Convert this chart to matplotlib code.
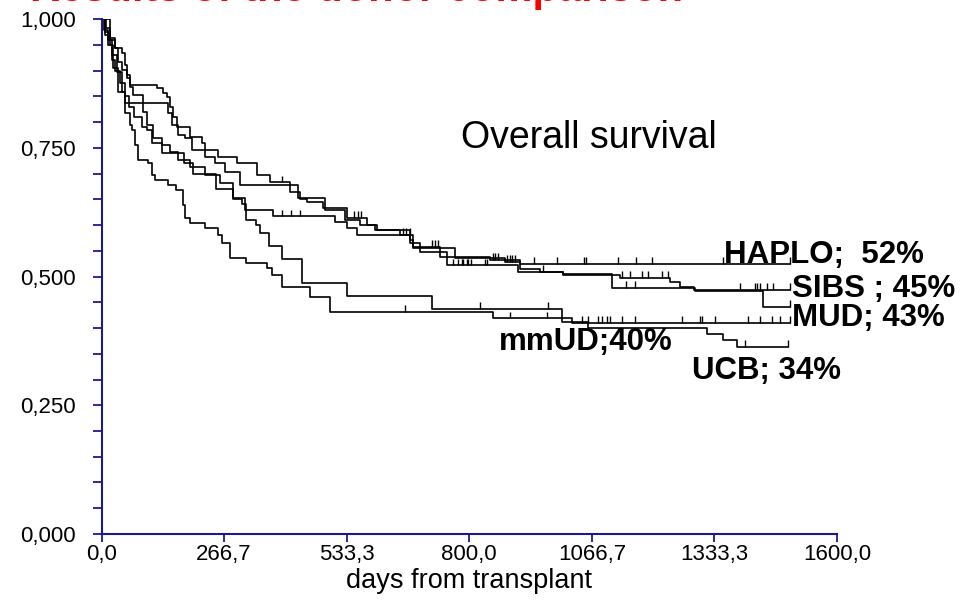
import numpy as np
import matplotlib
matplotlib.use('Agg')
import matplotlib.pyplot as plt

plt.rcParams['font.family'] = ['Liberation Sans', 'DejaVu Sans']

# Kaplan-Meier steps: time (days) where survival drops to value
haplo_t = [0, 10, 18, 29, 45, 51, 55, 62, 121, 134, 143, 149, 156, 164, 193, 219, 225, 253, 295,
           338, 367, 410, 432, 447, 482, 534, 578, 599, 671, 678, 736, 845, 910]
haplo_s = [1.000, 0.983, 0.963, 0.944, 0.934, 0.911, 0.891, 0.872, 0.866, 0.856, 0.849, 0.829, 0.810,
           0.790, 0.771, 0.759, 0.746, 0.732, 0.720, 0.697, 0.683, 0.664, 0.651, 0.645, 0.633, 0.614,
           0.600, 0.590, 0.571, 0.557, 0.538, 0.532, 0.524]
haplo_cens = [393, 550, 558, 565, 720, 726, 733, 852, 857, 862, 940, 991, 1050, 1055, 1124, 1163,
              1198, 1352, 1498]

sibs_t = [0, 5, 14, 23, 34, 45, 51, 145, 153, 166, 182, 197, 225, 247, 269, 301, 428, 486, 530, 562,
          595, 650, 671, 693, 751, 906, 1004, 1128, 1237, 1258, 1288]
sibs_s = [1.000, 0.979, 0.959, 0.930, 0.897, 0.858, 0.837, 0.817, 0.794, 0.775, 0.769, 0.746, 0.732,
          0.720, 0.703, 0.678, 0.652, 0.629, 0.610, 0.600, 0.590, 0.581, 0.565, 0.548, 0.522, 0.509,
          0.502, 0.497, 0.489, 0.480, 0.474]
sibs_cens = [655, 662, 670, 765, 776, 784, 787, 795, 798, 803, 835, 839, 1132, 1150, 1176, 1189,
             1219, 1232, 1389, 1422, 1426, 1433, 1448, 1461, 1498]

mud_t = [0, 8, 18, 29, 36, 45, 55, 62, 69, 90, 99, 112, 132, 149, 166, 193, 225, 258, 286, 312, 373,
         508, 534, 556, 678, 769, 878, 910, 954, 1004, 1111, 1291, 1439]
mud_s = [1.000, 0.969, 0.959, 0.944, 0.917, 0.901, 0.885, 0.868, 0.852, 0.819, 0.794, 0.769, 0.755,
         0.742, 0.726, 0.713, 0.697, 0.682, 0.652, 0.629, 0.617, 0.606, 0.594, 0.581, 0.556, 0.536,
         0.528, 0.515, 0.509, 0.505, 0.478, 0.472, 0.441]
mud_cens = [393, 413, 432, 882, 889, 893, 899, 960, 1142, 1160, 1498]

mmud_t = [0, 8, 15, 22, 30, 40, 50, 60, 70, 88, 99, 110, 132, 180, 200, 250, 285, 305, 315, 335, 345,
          365, 393, 437, 535, 720, 1002, 1023]
mmud_s = [1.000, 0.975, 0.950, 0.920, 0.900, 0.875, 0.850, 0.830, 0.810, 0.790, 0.785, 0.760, 0.740,
          0.720, 0.700, 0.670, 0.650, 0.640, 0.610, 0.600, 0.585, 0.560, 0.535, 0.487, 0.462, 0.437,
          0.420, 0.410]
mmud_cens = [823, 971, 1045, 1059, 1080, 1089, 1100, 1106, 1133, 1161, 1263, 1302, 1306, 1335, 1407,
             1433, 1459, 1476, 1498]

ucb_t = [0, 18, 25, 36, 51, 62, 66, 73, 79, 101, 110, 116, 145, 162, 177, 182, 193, 225, 253, 262,
         280, 314, 360, 371, 393, 454, 497, 852, 1002, 1059, 1317, 1352, 1383]
ucb_s = [1.000, 0.950, 0.905, 0.858, 0.817, 0.794, 0.785, 0.755, 0.726, 0.720, 0.697, 0.687, 0.678,
         0.668, 0.639, 0.614, 0.604, 0.594, 0.581, 0.565, 0.536, 0.526, 0.517, 0.503, 0.480, 0.460,
         0.431, 0.419, 0.412, 0.400, 0.388, 0.377, 0.363]
ucb_cens = [660, 889, 969, 1400, 1494]

curves = [
    (haplo_t, haplo_s, haplo_cens, 1498),
    (sibs_t, sibs_s, sibs_cens, 1498),
    (mud_t, mud_s, mud_cens, 1498),
    (mmud_t, mmud_s, mmud_cens, 1498),
    (ucb_t, ucb_s, ucb_cens, 1494),
]

x_ticks = np.arange(7) * 1600 / 6
y_ticks = [0, 0.25, 0.5, 0.75, 1.0]

axis_col = '#1a1a8c'

fig = plt.figure(figsize=(9.61, 6.13), dpi=100)
ax = fig.add_axes([0.1057, 0.1289, 0.7652, 0.840])

for t, s, cens, end in curves:
    t = np.array(t, float)
    s = np.array(s, float)
    ax.step(np.append(t, end), np.append(s, s[-1]), where='post', color='black', lw=1.2)
    c = np.array(cens, float)
    idx = np.searchsorted(t, c, side='right') - 1
    sc = s[idx]
    ax.vlines(c, sc, sc + 0.013, color='black', lw=1.0)

ax.set_xlim(0, 1600)
ax.set_ylim(0, 1)
for side in ['top', 'right']:
    ax.spines[side].set_visible(False)
for side in ['left', 'bottom']:
    ax.spines[side].set_color(axis_col)
    ax.spines[side].set_linewidth(1.5)

ax.set_xticks(x_ticks)
ax.set_xticklabels([f'{v:.1f}'.replace('.', ',') for v in x_ticks])
ax.set_yticks(y_ticks)
ax.set_yticklabels([f'{v:.3f}'.replace('.', ',') for v in y_ticks])
ax.set_yticks(np.arange(0, 1.0001, 0.05), minor=True)
ax.tick_params(axis='both', which='both', direction='out', width=1.3,
               color=axis_col, labelsize=16, labelcolor='black')
ax.tick_params(axis='y', which='both', length=6.5, pad=12)
ax.tick_params(axis='x', which='both', length=5.5, pad=2)
ax.set_xlabel('days from transplant', fontsize=19.5, labelpad=2)

ax.text(1061, 0.769, 'Overall survival', fontsize=27, ha='center', va='center')
lab = dict(fontsize=22.5, fontweight='bold', ha='left')
ax.text(1355, 0.526, 'HAPLO;  52%', va='baseline', **lab)
ax.text(1502, 0.476, 'SIBS ; 45%', va='center', **lab)
ax.text(1502, 0.419, 'MUD; 43%', va='center', **lab)
ax.text(865, 0.373, 'mmUD;40%', va='center', **lab)
ax.text(1285, 0.317, 'UCB; 34%', va='center', **lab)

# slide title, mostly cut off at the top edge as in the original
fig.text(30 / 961, 1 - 1.2 / 613, 'Results of the donor comparison', color='red',
         fontsize=30, fontweight='bold', ha='left', va='baseline')

fig.savefig('out.png', dpi=100)
